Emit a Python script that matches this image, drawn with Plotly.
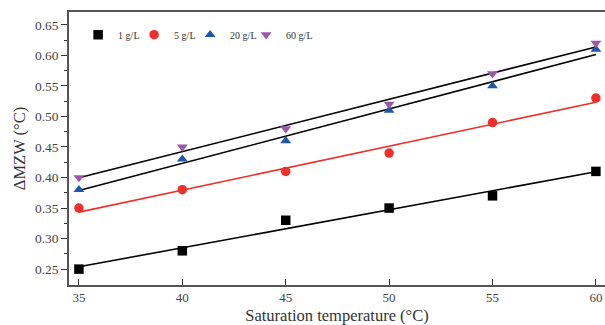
import numpy as np
import plotly.graph_objects as go

temps = [35, 40, 45, 50, 55, 60]
series_names = ["1 g/L", "5 g/L", "20 g/L", "60 g/L"]
y_1 = [0.25, 0.28, 0.33, 0.35, 0.37, 0.41]
y_5 = [0.35, 0.38, 0.41, 0.44, 0.49, 0.53]
y_20 = [0.38, 0.43, 0.46, 0.51, 0.55, 0.61]
y_60 = [0.40, 0.45, 0.48, 0.52, 0.57, 0.62]

series = [y_1, y_5, y_20, y_60]
marker_colors = ["#000000", "#ee2f2a", "#1f56a8", "#9b58a8"]
line_colors = ["#000000", "#ee2f2a", "#000000", "#000000"]
symbols = ["square", "circle", "triangle-up", "triangle-down"]

FONT = "Liberation Serif"
fig = go.Figure()

x = np.array(temps, dtype=float)
for ys, lc in zip(series, line_colors):
    k, b = np.polyfit(x, np.array(ys), 1)
    xl = np.array([x.min(), x.max()])
    fig.add_trace(go.Scatter(x=xl, y=k * xl + b, mode="lines",
                             line=dict(color=lc, width=1.6),
                             showlegend=False, hoverinfo="skip"))

for name, ys, mc, sym in zip(series_names, series, marker_colors, symbols):
    fig.add_trace(go.Scatter(x=temps, y=ys, mode="markers", name=name,
                             marker=dict(symbol=sym, size=9.5, color=mc,
                                         line=dict(width=0))))

# invisible spacer entry so the last legend label is not clipped
fig.add_trace(go.Scatter(x=[None], y=[None], mode="markers", name=" ",
                         marker=dict(color="rgba(0,0,0,0)", size=1,
                                     line=dict(width=0)),
                         hoverinfo="skip"))

fig.update_layout(
    width=605, height=325,
    margin=dict(l=69, r=0, t=12, b=40),
    paper_bgcolor="white", plot_bgcolor="white",
    font=dict(family=FONT, size=12, color="#333333"),
    legend=dict(orientation="h", x=0.017, y=0.97, xanchor="left", yanchor="top",
                font=dict(family=FONT, size=10, color="#333333"),
                bgcolor="rgba(0,0,0,0)", itemwidth=30, tracegroupgap=0,
                entrywidth=11, entrywidthmode="pixels"),
    xaxis=dict(range=[34.52, 60.44], tickvals=[35, 40, 45, 50, 55, 60],
               ticks="inside", ticklen=6, tickcolor="#333333",
               showline=True, linecolor="#555555", linewidth=1.5, mirror=True,
               showgrid=False, zeroline=False,
               tickfont=dict(family=FONT, size=13, color="#444444"),
               title=dict(text="Saturation temperature (°C)", standoff=5,
                          font=dict(family=FONT, size=16.5, color="#333333"))),
    yaxis=dict(range=[0.224, 0.671], tickvals=[0.25, 0.30, 0.35, 0.40, 0.45, 0.50, 0.55, 0.60, 0.65],
               ticktext=["0.25", "0.30", "0.35", "0.40", "0.45", "0.50", "0.55", "0.60", "0.65"],
               ticks="outside", ticklen=6, tickcolor="#333333",
               minor=dict(tickvals=[0.275, 0.325, 0.375, 0.425, 0.475, 0.525, 0.575, 0.625],
                          ticks="outside", ticklen=3, tickcolor="#333333"),
               showline=True, linecolor="#555555", linewidth=1.5,
               showgrid=False, zeroline=False,
               tickfont=dict(family=FONT, size=13.5, color="#444444"),
               title=dict(text="ΔMZW (°C)", standoff=5,
                          font=dict(family=FONT, size=16.5, color="#333333"))),
)

fig.write_html("out.html", config={"displayModeBar": False},
               post_script="document.body.style.margin='0';document.body.style.padding='0';")
